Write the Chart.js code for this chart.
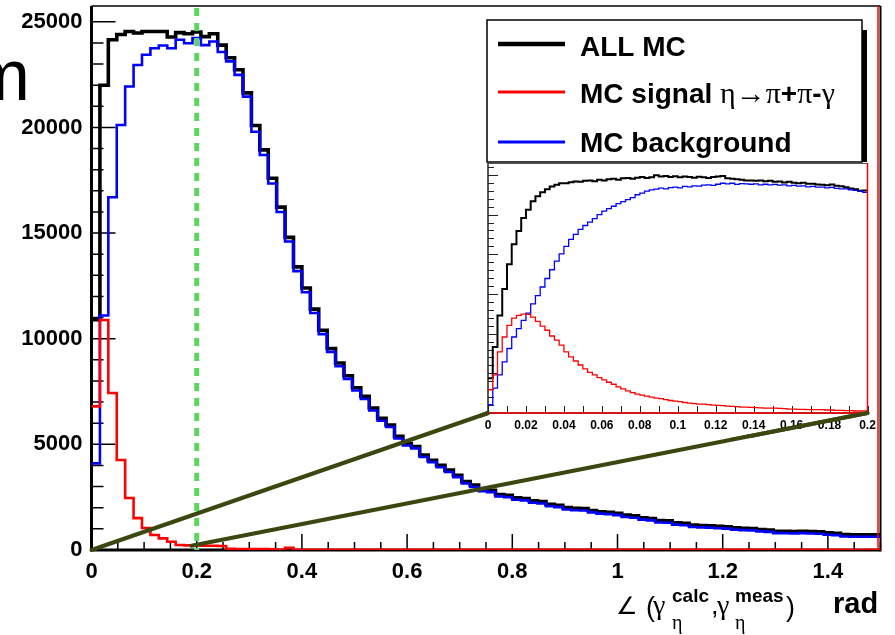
<!DOCTYPE html>
<html>
<head>
<meta charset="utf-8">
<script src="https://cdn.jsdelivr.net/npm/chart.js@4.4.1/dist/chart.umd.min.js"></script>
<style>
  html, body { margin: 0; padding: 0; background: #fff; }
  #wrap { position: relative; width: 895px; height: 635px; overflow: hidden; }
  #main { position: absolute; left: 0; top: 0; }
  #inset { position: absolute; left: 480px; top: 158px; }
</style>
</head>
<body>
<div id="wrap">
  <canvas id="main" width="895" height="635"></canvas>
  <canvas id="inset" width="400" height="280"></canvas>
</div>
<script>
// angle between calculated and measured eta photon, 0.016 rad bins from 0
const BIN_WIDTH = 0.016;

const allMC = [
  10900, 22000, 24150, 24400, 24540, 24470, 24540, 24540, 24540, 24280,
  24490, 24440, 24520, 24300, 24440, 23900, 23300, 22730, 21640, 20090,
  18940, 17600, 16230, 14800, 13400, 12400, 11400, 10400, 9540, 8850,
  8250, 7680, 7280, 6720, 6230, 5920, 5380, 5040, 4900, 4490,
  4250, 4010, 3780, 3540, 3240, 3070, 2870, 2830, 2630, 2590,
  2470, 2440, 2330, 2290, 2160, 2120, 2010, 1970, 1960, 1870,
  1810, 1790, 1740, 1650, 1620, 1530, 1490, 1390, 1380, 1290,
  1260, 1180, 1160, 1150, 1120, 1100, 1050, 1030, 1020, 970,
  950, 890, 880, 870, 890, 870, 860, 810, 790, 730,
  720, 720, 715, 720
];

const mcSignal = [
  6800, 10890, 7430, 4260, 2460, 1510, 1040, 710, 550, 390,
  240, 220, 210, 200, 200, 190, 60, 50, 50, 40,
  40, 30, 10, 100, 10, 10, 10, 10, 10, 10,
  10, 10, 10, 10, 10, 10, 10, 10, 10, 10,
  10, 10, 10, 10, 10, 10, 10, 10, 10, 10,
  10, 10, 10, 10, 10, 10, 10, 10, 10, 10,
  10, 10, 10, 10, 10, 10, 10, 10, 10, 10,
  10, 10, 10, 10, 10, 10, 10, 10, 10, 10,
  10, 10, 10, 10, 10, 10, 10, 10, 10, 10,
  0, 0, 10, 10
];

const mcBackground = [
  4100, 11100, 16700, 20120, 21940, 22960, 23440, 23750, 23880, 23750,
  24150, 23990, 24230, 23900, 24070, 23570, 23130, 22490, 21460, 19800,
  18700, 17350, 16000, 14600, 13200, 12200, 11220, 10220, 9380, 8700,
  8100, 7550, 7150, 6600, 6120, 5820, 5280, 4950, 4810, 4400,
  4160, 3920, 3690, 3450, 3150, 2980, 2780, 2740, 2540, 2500,
  2380, 2350, 2240, 2200, 2070, 2030, 1920, 1880, 1870, 1780,
  1720, 1700, 1650, 1560, 1530, 1440, 1400, 1300, 1290, 1200,
  1170, 1090, 1070, 1060, 1030, 1010, 960, 940, 930, 880,
  860, 800, 790, 780, 800, 780, 770, 720, 700, 640,
  630, 630, 625, 630
];

// zoom on 0 - 0.2 rad, 0.0025 rad bins
const ZOOM_BIN_WIDTH = 0.0025;

const zoomAllMC = [
  175, 333, 492, 625, 750, 850, 917, 983, 1025, 1067,
  1092, 1112, 1128, 1142, 1150, 1158, 1158, 1163, 1167, 1165,
  1170, 1172, 1168, 1175, 1172, 1178, 1180, 1176, 1183, 1185,
  1180, 1186, 1190, 1184, 1188, 1198, 1192, 1195, 1190, 1193,
  1188, 1192, 1190, 1186, 1191, 1188, 1185, 1190, 1192, 1195,
  1183, 1180, 1178, 1176, 1172, 1172, 1170, 1172, 1168, 1170,
  1165, 1167, 1162, 1165, 1160, 1158, 1160, 1155, 1156, 1152,
  1150, 1148, 1152, 1145, 1143, 1138, 1132, 1128, 1120, 1122
];

const zoomSignal = [
  117, 192, 308, 383, 442, 478, 492, 498, 497, 483,
  462, 438, 417, 388, 367, 342, 308, 283, 262, 242,
  222, 205, 192, 178, 167, 155, 145, 132, 122, 112,
  103, 95, 90, 85, 80, 75, 72, 67, 63, 60,
  57, 53, 50, 47, 45, 45, 42, 40, 38, 37,
  35, 33, 32, 30, 30, 28, 27, 26, 25, 25,
  25, 23, 22, 20, 20, 18, 18, 17, 17, 17,
  17, 15, 15, 13, 13, 12, 12, 10, 10, 10
];

const zoomBackground = [
  42, 125, 192, 258, 325, 383, 425, 467, 503, 550,
  592, 635, 678, 722, 765, 802, 840, 875, 900, 925,
  945, 962, 980, 1000, 1017, 1030, 1042, 1055, 1065, 1075,
  1085, 1100, 1108, 1118, 1125, 1128, 1133, 1130, 1136, 1138,
  1135, 1142, 1140, 1145, 1143, 1148, 1150, 1147, 1153, 1158,
  1155, 1158, 1152, 1156, 1155, 1153, 1155, 1150, 1153, 1150,
  1152, 1148, 1150, 1145, 1147, 1143, 1145, 1140, 1142, 1138,
  1138, 1135, 1137, 1132, 1130, 1130, 1125, 1122, 1118, 1112
];

const X_TICKS = [0, 0.2, 0.4, 0.6, 0.8, 1, 1.2, 1.4];
const Y_TICKS = [0, 5000, 10000, 15000, 20000, 25000];
const ZOOM_X_TICKS = [0, 0.02, 0.04, 0.06, 0.08, 0.1, 0.12, 0.14, 0.16, 0.18, 0.2];

const CUT = 0.2;                       // selection cut, dashed green line
const ZOOM_FROM = [{ x: 0, y: 0 }, { x: 0.19, y: 200 }];

const SANS = "'Liberation Sans', Arial, sans-serif";
const SERIF = "'Liberation Serif', 'DejaVu Serif', serif";
const BOLD = size => `bold ${size}px ${SANS}`;
const OLIVE = '#3b4710';

const INSET_LEFT = 480, INSET_TOP = 158;

function histPoints(values, width) {
  const pts = values.map((v, i) => ({ x: +(i * width).toFixed(5), y: v }));
  pts.push({ x: +(values.length * width).toFixed(5), y: values[values.length - 1] });
  return pts;
}

function fmt(v) {
  return String(+v.toFixed(3));
}

let mainChart = null;
let insetChart = null;

// olive lines from the zoomed range on the main axis to the inset corners
function drawZoomLines(ctx, dx, dy) {
  if (!mainChart || !insetChart) return;
  const { x, y } = mainChart.scales;
  const ia = insetChart.chartArea;
  const ends = [
    [INSET_LEFT + ia.left, INSET_TOP + ia.bottom],
    [INSET_LEFT + ia.right, INSET_TOP + ia.bottom]
  ];
  ctx.save();
  ctx.strokeStyle = OLIVE;
  ctx.lineWidth = 4;
  ctx.lineCap = 'round';
  ZOOM_FROM.forEach((p, i) => {
    ctx.beginPath();
    ctx.moveTo(x.getPixelForValue(p.x) - dx, y.getPixelForValue(p.y) - dy);
    ctx.lineTo(ends[i][0] - dx, ends[i][1] - dy);
    ctx.stroke();
  });
  ctx.restore();
}

function drawRich(ctx, pieces, x, y) {
  pieces.forEach(([text, font]) => {
    ctx.font = font;
    ctx.fillText(text, x, y);
    x += ctx.measureText(text).width;
  });
}

const LEGEND_ROWS = [
  { color: '#000', width: 4.5, lineY: 44, baseY: 56, pieces: [['ALL MC', BOLD(28)]] },
  { color: '#f00', width: 3, lineY: 92, baseY: 103, pieces: [
      ['MC signal ', BOLD(28)], ['\u03b7\u2192\u03c0', `30px ${SERIF}`], ['+', BOLD(28)],
      ['\u03c0', `30px ${SERIF}`], ['-', BOLD(28)], ['\u03b3', `30px ${SERIF}`]] },
  { color: '#00f', width: 3, lineY: 142, baseY: 152, pieces: [['MC background', BOLD(28)]] }
];

function drawLegend(ctx) {
  ctx.save();
  ctx.fillStyle = '#000';
  ctx.fillRect(862, 30, 5, 132);
  ctx.fillStyle = '#fff';
  ctx.fillRect(487, 20, 375, 142);
  ctx.strokeStyle = '#000';
  ctx.lineWidth = 1.5;
  ctx.strokeRect(487, 20, 375, 142);
  LEGEND_ROWS.forEach(row => {
    ctx.strokeStyle = row.color;
    ctx.lineWidth = row.width;
    ctx.beginPath();
    ctx.moveTo(498, row.lineY);
    ctx.lineTo(565, row.lineY);
    ctx.stroke();
    ctx.fillStyle = '#000';
    ctx.textBaseline = 'alphabetic';
    ctx.textAlign = 'left';
    drawRich(ctx, row.pieces, 580, row.baseY);
  });
  ctx.restore();
}

const AXIS_TITLE = [
  { t: '\u2220', font: `24px 'DejaVu Sans'`, x: 616, y: 614 },
  { t: '(', font: `27px ${SANS}`, x: 646, y: 616 },
  { t: '\u03b3', font: `28px ${SERIF}`, x: 653, y: 614 },
  { t: 'calc', font: BOLD(19), x: 672, y: 602 },
  { t: '\u03b7', font: `20px ${SERIF}`, x: 672, y: 629 },
  { t: ',', font: `27px ${SANS}`, x: 711, y: 614 },
  { t: '\u03b3', font: `28px ${SERIF}`, x: 717, y: 614 },
  { t: 'meas', font: BOLD(19), x: 735, y: 602 },
  { t: '\u03b7', font: `20px ${SERIF}`, x: 735, y: 629 },
  { t: ')', font: `27px ${SANS}`, x: 786, y: 616 },
  { t: 'rad', font: BOLD(29), x: 833, y: 613 }
];

const mainDecor = {
  id: 'mainDecor',
  beforeDatasetsDraw(chart) {
    const { ctx, chartArea: a, scales: { x, y } } = chart;
    ctx.save();
    ctx.strokeStyle = '#000';
    ctx.lineWidth = 1.5;
    ctx.beginPath();
    for (let v = 0; v <= y.max; v += 1000) {
      const py = y.getPixelForValue(v);
      const len = Y_TICKS.includes(v) ? 24 : 12;
      ctx.moveTo(a.left, py);
      ctx.lineTo(a.left + len, py);
    }
    for (let i = 0; i * 0.05 <= x.max + 1e-9; i++) {
      const px = x.getPixelForValue(i * 0.05);
      const len = i % 4 === 0 ? 16 : 8;
      ctx.moveTo(px, a.bottom);
      ctx.lineTo(px, a.bottom - len);
    }
    ctx.stroke();

    ctx.lineWidth = 3;
    ctx.beginPath();
    ctx.moveTo(a.left, a.top);
    ctx.lineTo(a.left, a.bottom + 1.5);
    ctx.moveTo(a.left - 1.5, a.bottom);
    ctx.lineTo(a.right, a.bottom);
    ctx.stroke();
    ctx.lineWidth = 1.5;
    ctx.beginPath();
    ctx.moveTo(a.left, a.top);
    ctx.lineTo(a.right, a.top);
    ctx.stroke();
    ctx.lineWidth = 2;
    ctx.beginPath();
    ctx.moveTo(a.right, a.top);
    ctx.lineTo(a.right, a.bottom + 1.5);
    ctx.stroke();
    ctx.restore();
  },
  afterDatasetsDraw(chart) {
    const { ctx, chartArea: a, scales: { x } } = chart;
    ctx.save();
    // overflow edge of the signal histogram
    ctx.strokeStyle = '#f00';
    ctx.lineWidth = 1.5;
    ctx.beginPath();
    ctx.moveTo(a.right - 2.5, a.top);
    ctx.lineTo(a.right - 2.5, a.bottom);
    ctx.stroke();

    // cut line
    const cx = x.getPixelForValue(CUT);
    ctx.strokeStyle = '#5cd65c';
    ctx.lineWidth = 5;
    ctx.setLineDash([8, 7]);
    ctx.beginPath();
    ctx.moveTo(cx, a.top + 2);
    ctx.lineTo(cx, a.bottom);
    ctx.stroke();
    ctx.restore();

    drawZoomLines(ctx, 0, 0);
    drawLegend(ctx);

    ctx.save();
    ctx.fillStyle = '#000';
    ctx.textBaseline = 'alphabetic';
    ctx.textAlign = 'right';
    ctx.font = `72px ${SANS}`;
    ctx.fillText('m', 30, 100);
    ctx.textAlign = 'left';
    AXIS_TITLE.forEach(p => {
      ctx.font = p.font;
      ctx.fillText(p.t, p.x, p.y);
    });
    ctx.restore();
  }
};

const insetDecor = {
  id: 'insetDecor',
  beforeDatasetsDraw(chart) {
    const { ctx, chartArea: a, scales: { x, y } } = chart;
    ctx.save();
    ctx.fillStyle = '#fff';
    ctx.fillRect(a.left, a.top, a.right - a.left, a.bottom - a.top);
    ctx.strokeStyle = '#222';
    ctx.lineWidth = 1;
    ctx.beginPath();
    for (let v = 0; v <= y.max; v += 40) {
      const py = Math.round(y.getPixelForValue(v)) + 0.5;
      const len = v % 200 === 0 ? 10 : 6;
      ctx.moveTo(a.left, py);
      ctx.lineTo(a.left + len, py);
    }
    for (let i = 0; i * 0.01 <= x.max + 1e-9; i++) {
      const px = Math.round(x.getPixelForValue(i * 0.01)) + 0.5;
      ctx.moveTo(px, a.bottom);
      ctx.lineTo(px, a.bottom - 7);
    }
    ctx.stroke();
    ctx.lineWidth = 1.5;
    ctx.beginPath();
    ctx.moveTo(a.left, a.top);
    ctx.lineTo(a.left, a.bottom);
    ctx.lineTo(a.right, a.bottom);
    ctx.stroke();
    ctx.strokeStyle = '#555';
    ctx.lineWidth = 1;
    ctx.beginPath();
    ctx.moveTo(a.left, a.top + 0.5);
    ctx.lineTo(a.right, a.top + 0.5);
    ctx.stroke();
    ctx.restore();
  },
  afterDatasetsDraw(chart) {
    const { ctx, chartArea: a } = chart;
    ctx.save();
    ctx.strokeStyle = '#f00';
    ctx.lineWidth = 1.5;
    ctx.beginPath();
    ctx.moveTo(a.right, a.top);
    ctx.lineTo(a.right, a.bottom);
    ctx.moveTo(a.left, a.bottom);
    ctx.lineTo(a.right, a.bottom);
    ctx.stroke();
    ctx.restore();
  },
  afterDraw(chart) {
    drawZoomLines(chart.ctx, INSET_LEFT, INSET_TOP);
  }
};

function histDataset(label, values, width, color, lineWidth, order) {
  return {
    label,
    data: histPoints(values, width),
    borderColor: color,
    borderWidth: lineWidth,
    stepped: 'before',
    pointRadius: 0,
    fill: false,
    order
  };
}

// pin the plot frame: no extra room for overhanging tick labels
function fixBox(s, size) {
  if (s.isHorizontal()) s.height = size; else s.width = size;
  s.paddingTop = 0;
  s.paddingBottom = 0;
  s.paddingLeft = 0;
  s.paddingRight = 0;
}

insetChart = new Chart(document.getElementById('inset'), {
  type: 'line',
  data: {
    datasets: [
      histDataset('MC signal', zoomSignal, ZOOM_BIN_WIDTH, '#f00', 1.3, 0),
      histDataset('MC background', zoomBackground, ZOOM_BIN_WIDTH, '#00f', 1.3, 1),
      histDataset('ALL MC', zoomAllMC, ZOOM_BIN_WIDTH, '#000', 2, 2)
    ]
  },
  options: {
    responsive: false,
    animation: false,
    devicePixelRatio: 1,
    events: [],
    layout: { padding: { left: 8, right: 12.5, top: 5, bottom: 0 } },
    plugins: { legend: { display: false }, tooltip: { enabled: false } },
    scales: {
      x: {
        type: 'linear', min: 0, max: 0.2,
        afterFit: s => fixBox(s, 25),
        afterBuildTicks: s => { s.ticks = ZOOM_X_TICKS.map(v => ({ value: v })); },
        grid: { display: false, drawTicks: false },
        border: { display: false },
        ticks: { color: '#000', font: { family: SANS, size: 12, weight: 'bold' }, padding: 5,
                 maxRotation: 0, autoSkip: false, callback: v => fmt(v) }
      },
      y: { display: false, min: 0, max: 1260 }
    }
  },
  plugins: [insetDecor]
});

mainChart = new Chart(document.getElementById('main'), {
  type: 'line',
  data: {
    datasets: [
      histDataset('MC signal \u03b7\u2192\u03c0+\u03c0-\u03b3', mcSignal, BIN_WIDTH, '#f00', 2.6, 0),
      histDataset('MC background', mcBackground, BIN_WIDTH, '#00f', 2.6, 1),
      histDataset('ALL MC', allMC, BIN_WIDTH, '#000', 3.6, 2)
    ]
  },
  options: {
    responsive: false,
    animation: false,
    devicePixelRatio: 1,
    events: [],
    layout: { padding: { left: 0, right: 14.5, top: 6, bottom: 0 } },
    plugins: { legend: { display: false }, tooltip: { enabled: false } },
    scales: {
      x: {
        type: 'linear', min: 0, max: 1.5,
        afterFit: s => fixBox(s, 85),
        afterBuildTicks: s => { s.ticks = X_TICKS.map(v => ({ value: v })); },
        grid: { display: false, drawTicks: false },
        border: { display: false },
        ticks: { color: '#000', font: { family: SANS, size: 22, weight: 'bold' }, padding: 9,
                 maxRotation: 0, autoSkip: false, callback: v => fmt(v) }
      },
      y: {
        min: 0, max: 25750,
        afterFit: s => fixBox(s, 91.5),
        afterBuildTicks: s => { s.ticks = Y_TICKS.map(v => ({ value: v })); },
        grid: { display: false, drawTicks: false },
        border: { display: false },
        ticks: { color: '#000', font: { family: SANS, size: 22, weight: 'bold' }, padding: 9,
                 autoSkip: false, callback: v => fmt(v) }
      }
    }
  },
  plugins: [mainDecor]
});

// both charts exist now, so the zoom lines can be drawn on each
mainChart.draw();
insetChart.draw();
</script>
</body>
</html>
